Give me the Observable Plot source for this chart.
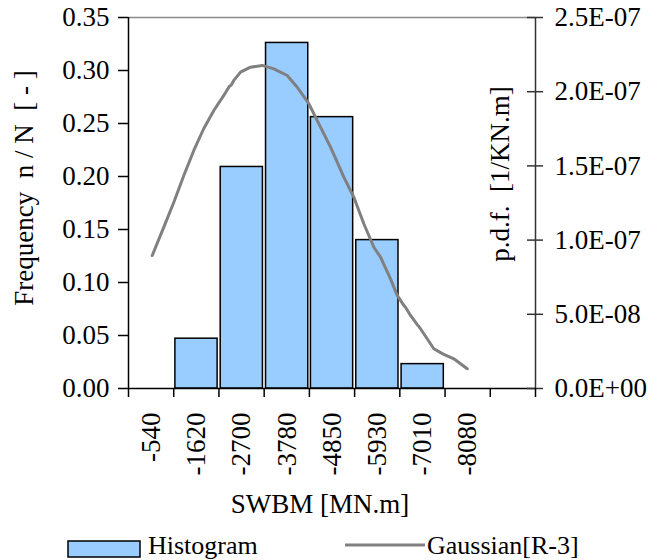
<!DOCTYPE html>
<html>
<head>
<meta charset="utf-8">
<script src="https://cdn.jsdelivr.net/npm/d3@7"></script>
<script src="https://cdn.jsdelivr.net/npm/@observablehq/plot@0.6"></script>
<style>
  html, body { margin: 0; padding: 0; background: #fff; }
  #wrap { position: relative; width: 654px; height: 560px; overflow: hidden; }
  #wrap svg { display: block; }
</style>
</head>
<body>
<div id="wrap"></div>
<script>
// ---- data ----
const categories = ["-540", "-1620", "-2700", "-3780", "-4850", "-5930", "-7010", "-8080"];
const frequency  = [0, 0.047, 0.209, 0.326, 0.256, 0.140, 0.023, 0];

// Gaussian[R-3] p.d.f. curve, x in MN.m, pdf in 1/kN.m
const curveX   = [-565, -841, -1080, -1318, -1556, -1794, -2033, -2271, -2400, -2450, -2509, -2669, -2907, -3186,
                  -3463, -3782, -4020, -4297, -4575, -4814, -5131, -5369, -5607, -5846, -6005, -6243, -6403,
                  -6560, -6600, -6720, -6880, -6920, -7037, -7275, -7500, -7752, -8071];
const curvePdf = [0.896e-7, 1.087e-7, 1.255e-7, 1.435e-7, 1.604e-7, 1.752e-7, 1.873e-7, 1.975e-7, 2.035e-7, 2.045e-7,
                  2.076e-7, 2.132e-7, 2.165e-7, 2.177e-7, 2.154e-7, 2.109e-7, 2.030e-7, 1.919e-7, 1.761e-7, 1.626e-7,
                  1.424e-7, 1.289e-7, 1.110e-7, 0.952e-7, 0.885e-7, 0.739e-7, 0.627e-7, 0.560e-7, 0.548e-7, 0.492e-7,
                  0.430e-7, 0.418e-7, 0.369e-7, 0.268e-7, 0.232e-7, 0.200e-7, 0.133e-7];

const leftTicks   = [0, 0.05, 0.10, 0.15, 0.20, 0.25, 0.30, 0.35];
const leftLabels  = ["0.00", "0.05", "0.10", "0.15", "0.20", "0.25", "0.30", "0.35"];
const rightTicks  = [0, 5e-8, 1e-7, 1.5e-7, 2e-7, 2.5e-7];
const rightLabels = ["0.0E+00", "5.0E-08", "1.0E-07", "1.5E-07", "2.0E-07", "2.5E-07"];

const yTitle  = "Frequency\u00a0 n / N \u00a0[ - ]";
const y2Title = "p.d.f.\u00a0 [1/KN.m]";
const xTitle  = "SWBM [MN.m]";
const legendLabels = ["Histogram", "Gaussian[R-3]"];

// ---- derived ----
const nBins = categories.length + 1;            // one empty category after -8080
const binWidth = 1077.5;                         // spacing of the category labels
const centers = categories.map(Number);
const bars = categories.map((c, i) => ({cat: c, center: centers[i], freq: frequency[i]}));
const boundaries = d3.range(nBins + 1).map(i => -i * binWidth);
const yMax = 0.35, pdfMax = 2.5e-7, k = yMax / pdfMax;
const curve = curveX.map((x, i) => ({x, y: curvePdf[i] * k}));
const rightScaled = rightTicks.map(v => v * k);

const font = "'Liberation Serif', 'Times New Roman', Times, serif";

const chart = Plot.plot({
  width: 654,
  height: 530,
  marginLeft: 128,
  marginRight: 119,
  marginTop: 17,
  marginBottom: 142,
  style: {fontFamily: font, fontSize: "27px", background: "white", color: "black"},
  x: {type: "linear", domain: [0, -nBins * binWidth], axis: null, label: null},
  y: {domain: [0, yMax], axis: null, label: null},
  marks: [
    Plot.rect(bars.filter(d => d.freq > 0), {
      x1: d => d.center + binWidth / 2,
      x2: d => d.center - binWidth / 2,
      y1: 0,
      y2: "freq",
      insetLeft: 1.5,
      insetRight: 1.5,
      fill: "#99CCFF",
      stroke: "black",
      strokeWidth: 1.5
    }),
    Plot.line(curve, {x: "x", y: "y", stroke: "#808080", strokeWidth: 3, strokeLinejoin: "round", curve: "linear"}),
    // frame lines
    Plot.ruleY([yMax], {stroke: "#8a8a8a", strokeWidth: 1.5}),
    Plot.ruleX([0], {stroke: "black", strokeWidth: 1.5}),
    Plot.ruleX([-nBins * binWidth], {stroke: "#333", strokeWidth: 1.5}),
    Plot.ruleY([0], {stroke: "black", strokeWidth: 1.5}),
    // left axis
    Plot.axisY(leftTicks, {
      anchor: "left", label: null, tickSize: 10, tickPadding: 9, strokeWidth: 1.5,
      tickFormat: d => leftLabels[leftTicks.indexOf(d)], fontSize: 27, fontFamily: font
    }),
    // right axis (p.d.f.)
    Plot.axisY(rightScaled, {
      anchor: "right", label: null, tickSize: 7, tickPadding: 12, strokeWidth: 1.5, stroke: "#333",
      tickFormat: d => rightLabels[rightScaled.indexOf(d)], fontSize: 27, fontFamily: font
    }),
    Plot.axisY(rightScaled, {
      anchor: "right", label: null, tickSize: -9, tickPadding: 0, strokeWidth: 1.5, stroke: "#333",
      tickFormat: () => ""
    }),
    // bottom axis: tick marks between categories, labels at category centres
    Plot.axisX(boundaries, {anchor: "bottom", label: null, tickSize: 9, strokeWidth: 1.5, tickFormat: () => ""}),
    Plot.axisX(centers, {
      anchor: "bottom", label: null, tickSize: 0, tickPadding: 24, tickRotate: -90,
      tickFormat: d => categories[centers.indexOf(d)], fontSize: 27, fontFamily: font
    }),
    // titles
    Plot.text([yTitle], {frameAnchor: "left", textAnchor: "middle", dx: -104, dy: -15, rotate: -90, fontSize: 27, fontFamily: font, fill: "black"}),
    Plot.text([y2Title], {frameAnchor: "right", textAnchor: "middle", dx: -35, dy: -29, rotate: -90, fontSize: 27, fontFamily: font, fill: "black"}),
    Plot.text([xTitle], {frameAnchor: "bottom", textAnchor: "middle", dx: -12, dy: 124, fontSize: 27, fontFamily: font, fill: "black"})
  ]
});

const wrap = document.getElementById("wrap");
wrap.appendChild(chart);

// legend below the chart
const ns = "http://www.w3.org/2000/svg";
const leg = document.createElementNS(ns, "svg");
leg.setAttribute("width", 654);
leg.setAttribute("height", 30);
leg.style.fontFamily = font;
leg.style.fontSize = "26px";
const rect = document.createElementNS(ns, "rect");
Object.entries({x: 68, y: 11, width: 72, height: 16, fill: "#99CCFF", stroke: "black", "stroke-width": 1.5})
  .forEach(([a, v]) => rect.setAttribute(a, v));
leg.appendChild(rect);
const t1 = document.createElementNS(ns, "text");
t1.setAttribute("x", 148); t1.setAttribute("y", 24); t1.textContent = legendLabels[0];
leg.appendChild(t1);
const ln = document.createElementNS(ns, "line");
Object.entries({x1: 345, x2: 425, y1: 15, y2: 15, stroke: "#808080", "stroke-width": 3})
  .forEach(([a, v]) => ln.setAttribute(a, v));
leg.appendChild(ln);
const t2 = document.createElementNS(ns, "text");
t2.setAttribute("x", 427); t2.setAttribute("y", 24); t2.textContent = legendLabels[1];
leg.appendChild(t2);
wrap.appendChild(leg);
</script>
</body>
</html>
